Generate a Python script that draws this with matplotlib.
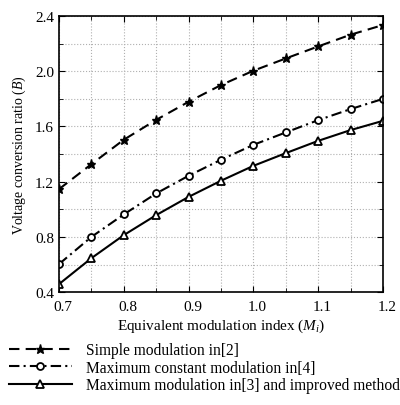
import numpy as np
import matplotlib.pyplot as plt
import matplotlib.transforms as mtransforms

plt.rcParams['font.family'] = ['Liberation Serif', 'DejaVu Serif']
plt.rcParams['mathtext.fontset'] = 'custom'
plt.rcParams['mathtext.it'] = 'Liberation Serif:italic'
plt.rcParams['mathtext.rm'] = 'Liberation Serif'

mi = [0.70, 0.75, 0.80, 0.85, 0.90, 0.95, 1.00, 1.05, 1.10, 1.15, 1.20]
simple = [1.146, 1.327, 1.504, 1.648, 1.779, 1.900, 2.004, 2.093, 2.180, 2.265, 2.335]
max_const = [0.603, 0.800, 0.963, 1.115, 1.243, 1.359, 1.467, 1.557, 1.646, 1.726, 1.800]
max_mod = [0.458, 0.646, 0.813, 0.958, 1.090, 1.207, 1.315, 1.407, 1.496, 1.574, 1.641]

labels = ['Simple modulation in[2]',
          'Maximum constant modulation in[4]',
          'Maximum modulation in[3] and improved method']

fig = plt.figure(figsize=(4.0, 4.06), dpi=100)
ax = fig.add_axes([0.1475, 0.278, 0.81, 0.680])

ax.plot(mi, simple, color='black', lw=1.5, ls=(0, (5, 3)), marker='*', ms=6.5,
        label=labels[0])
ax.plot(mi, max_const, color='black', lw=1.5, ls=(0, (5, 2, 1, 2)), marker='o', ms=5,
        mfc='white', mew=1.3, label=labels[1])
ax.plot(mi, max_mod, color='black', lw=1.5, ls='-', marker='^', ms=6,
        mfc='white', mew=1.3, label=labels[2])

ax.set_xlim(0.7, 1.2)
ax.set_ylim(0.4, 2.4)
ax.set_xticks(np.arange(0.7, 1.21, 0.1))
ax.set_xticks(np.arange(0.7, 1.21, 0.05), minor=True)
ax.set_yticks(np.arange(0.4, 2.41, 0.4))
ax.set_yticks(np.arange(0.4, 2.41, 0.2), minor=True)
ax.xaxis.set_major_formatter(plt.FormatStrFormatter('%.1f'))
ax.yaxis.set_major_formatter(plt.FormatStrFormatter('%.1f'))
ax.tick_params(which='both', direction='in', top=True, right=True, labelsize=11)
ax.tick_params(which='major', length=4)
ax.tick_params(which='minor', length=3)
ax.tick_params(axis='x', pad=6)
ax.grid(True, which='both', color='#b0b0b0', ls=':', lw=0.8)
ax.set_axisbelow(True)
for sp in ax.spines.values():
    sp.set_linewidth(1.2)

# x tick labels sit a bit right of their ticks in the original
shift = mtransforms.ScaledTranslation(4 / 100, 0, fig.dpi_scale_trans)
for lbl in ax.get_xticklabels():
    lbl.set_transform(lbl.get_transform() + shift)

ax.set_xlabel('Equivalent modulation index ($M_i$)', fontsize=11, labelpad=2)
ax.set_ylabel('Voltage conversion ratio ($B$)', fontsize=10, labelpad=5)

handles, labs = ax.get_legend_handles_labels()
fig.legend(handles, labs, loc='upper left', bbox_to_anchor=(0.0, 0.178),
           frameon=False, fontsize=11.2, handlelength=4.0, handletextpad=0.9,
           labelspacing=0.1, borderaxespad=0.2)

fig.savefig('out.png', dpi=100)
